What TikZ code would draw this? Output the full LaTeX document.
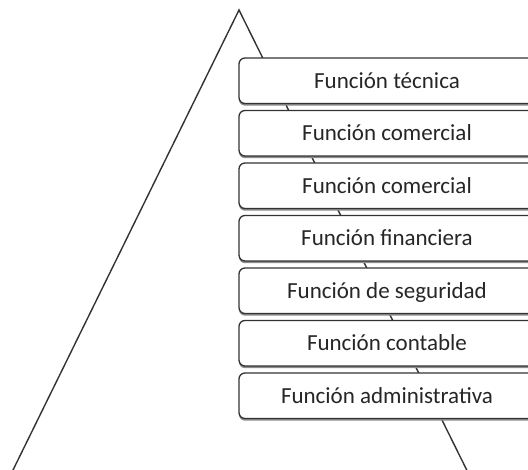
\documentclass[tikz,border=0pt]{standalone}
\usepackage{fontspec}
\setmainfont{Carlito}
\usetikzlibrary{shadows}
\definecolor{lineclr}{HTML}{333333}
\definecolor{textclr}{HTML}{262626}
\tikzset{
  tri/.style={draw=lineclr, line width=1.4pt, line join=miter},
  fbox/.style={draw=lineclr, line width=1.3pt, fill=white, rounded corners=6pt,
    minimum width=296pt, minimum height=45.5pt, text height=15pt, text depth=0pt,
    inner sep=0pt, text=textclr, font=\fontsize{23}{27}\selectfont,
    drop shadow={shadow xshift=0pt, shadow yshift=-2.2pt, fill=black!45, opacity=1}}
}
\begin{document}
\begin{tikzpicture}[x=1pt,y=-1pt]
\useasboundingbox (0,0) rectangle (528,470);
\clip (0,0) rectangle (528,470);
\coordinate (apex) at (239,10);
\coordinate (bl) at (8.1,480);
\coordinate (br) at (471.7,480);
\draw[tri] (bl) -- (apex) -- (br);
\node[fbox] (b0) at (387,80.75) {Función técnica};
\node[fbox] (b1) at (387,133.25) {Función comercial};
\node[fbox] (b2) at (387,185.75) {Función comercial};
\node[fbox] (b3) at (387,238.25) {Función financiera};
\node[fbox] (b4) at (387,290.75) {Función de seguridad};
\node[fbox] (b5) at (387,343.25) {Función contable};
\node[fbox] (b6) at (387,395.75) {Función administrativa};
\end{tikzpicture}
\end{document}
